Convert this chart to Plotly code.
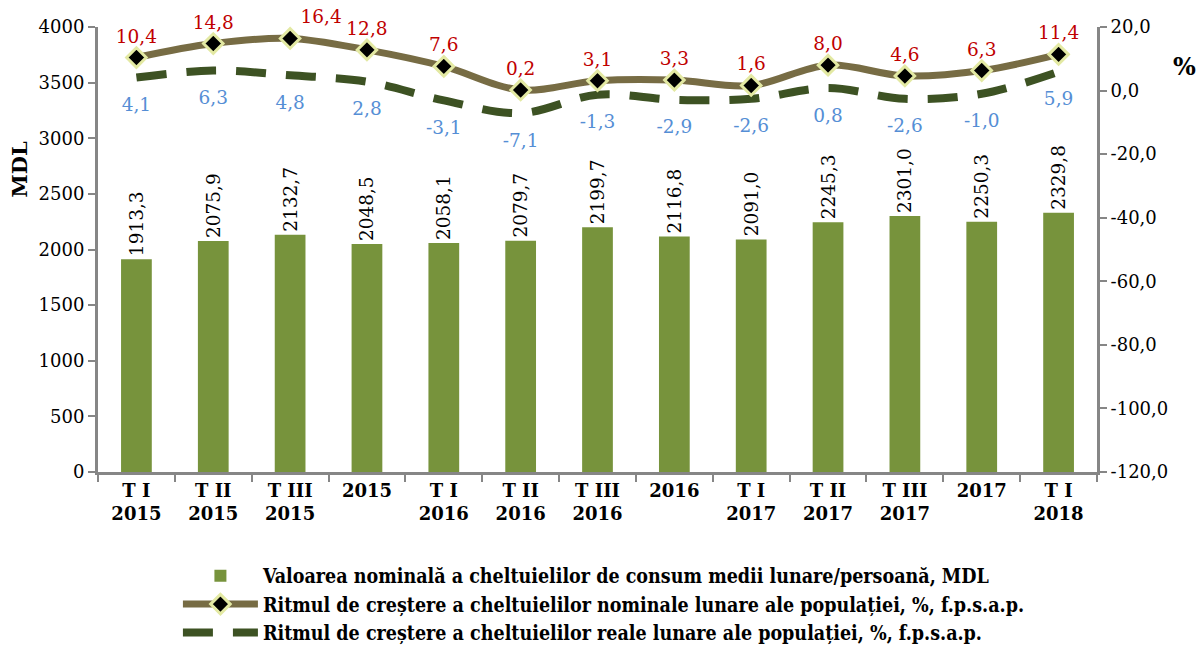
import plotly.graph_objects as go

# Quarter / year categories
categories = ["T I<br>2015", "T II<br>2015", "T III<br>2015", "2015",
              "T I<br>2016", "T II<br>2016", "T III<br>2016", "2016",
              "T I<br>2017", "T II<br>2017", "T III<br>2017", "2017",
              "T I<br>2018"]

# Average monthly consumption expenditure per person, MDL
nominal_value = [1913.3, 2075.9, 2132.7, 2048.5, 2058.1, 2079.7, 2199.7,
                 2116.8, 2091.0, 2245.3, 2301.0, 2250.3, 2329.8]

# Growth rates, % vs. same period of previous year
nominal_growth = [10.4, 14.8, 16.4, 12.8, 7.6, 0.2, 3.1, 3.3, 1.6, 8.0, 4.6, 6.3, 11.4]
real_growth = [4.1, 6.3, 4.8, 2.8, -3.1, -7.1, -1.3, -2.9, -2.6, 0.8, -2.6, -1.0, 5.9]

right_tickvals = [20, 0, -20, -40, -60, -80, -100, -120]
right_ticktext = ["20,0", "0,0", "-20,0", "-40,0", "-60,0", "-80,0", "-100,0", "-120,0"]


def fmt(v):
    return f"{v:.1f}".replace(".", ",")


SERIF = "DejaVu Serif"
AXIS_GRAY = "#868686"

# label placement for the nominal growth line (peak label sits to the right)
nominal_label_pos = ["top center"] * len(categories)
nominal_label_pos[2] = "top right"

fig = go.Figure()

fig.add_trace(go.Bar(
    x=categories, y=nominal_value,
    name="Valoarea nominală a cheltuielilor de consum medii lunare/persoană, MDL",
    legendrank=1,
    marker=dict(color="#77933C", line=dict(width=0)),
    width=0.4,
    text=[fmt(v) for v in nominal_value],
    textposition="outside", textangle=-90, constraintext="none",
    textfont=dict(family=SERIF, size=18.5, color="black"),
    cliponaxis=False,
    yaxis="y",
))

fig.add_trace(go.Scatter(
    x=categories, y=real_growth,
    name="Ritmul de creștere a cheltuielilor reale lunare ale populației, %, f.p.s.a.p.",
    legendrank=3,
    mode="lines+markers+text",
    line=dict(color="#3D5223", width=8, dash="30px,20px", shape="spline", smoothing=1),
    marker=dict(size=30, color="rgba(0,0,0,0)", line=dict(width=0)),
    text=[fmt(v) for v in real_growth],
    textposition="bottom center",
    textfont=dict(family=SERIF, size=18.5, color="#558ED5"),
    cliponaxis=False,
    yaxis="y2",
))

fig.add_trace(go.Scatter(
    x=categories, y=nominal_growth,
    name="Ritmul de creștere a cheltuielilor nominale lunare ale populației, %, f.p.s.a.p.",
    legendrank=2,
    mode="lines+markers+text",
    line=dict(color="#776C44", width=7, shape="spline", smoothing=1),
    marker=dict(symbol="diamond", size=15, color="black",
                line=dict(color="#E3E9A3", width=3)),
    text=[fmt(v) for v in nominal_growth],
    textposition=nominal_label_pos,
    textfont=dict(family=SERIF, size=18.5, color="#C00000"),
    cliponaxis=False,
    yaxis="y2",
))

fig.update_layout(
    width=1201, height=646,
    margin=dict(l=98, r=104, t=27, b=174, autoexpand=False),
    paper_bgcolor="white", plot_bgcolor="white",
    font=dict(family=SERIF, size=18, color="black"),
    bargap=0.6,
    showlegend=True,
    legend=dict(
        orientation="v", x=0.08, xanchor="left", y=-0.19, yanchor="top",
        itemwidth=75, tracegroupgap=0,
        font=dict(family="DejaVu Serif Condensed", size=19.5, color="black", weight="bold"),
        bgcolor="rgba(0,0,0,0)",
    ),
    xaxis=dict(
        type="category", automargin=False, range=[-0.5, len(categories) - 0.5],
        showline=True, linecolor=AXIS_GRAY, linewidth=3,
        ticks="outside", tickson="boundaries", ticklen=7, tickwidth=2, tickcolor=AXIS_GRAY,
        tickfont=dict(family=SERIF, size=18, color="black", weight="bold"),
        showgrid=False, zeroline=False,
    ),
    yaxis=dict(
        range=[0, 4000], dtick=500, automargin=False,
        showline=True, linecolor=AXIS_GRAY, linewidth=3,
        ticks="outside", ticklen=7, tickwidth=2, tickcolor=AXIS_GRAY,
        tickfont=dict(family=SERIF, size=18, color="black"),
        showgrid=False, zeroline=False,
    ),
    yaxis2=dict(
        overlaying="y", side="right", automargin=False,
        range=[-120, 20], tickvals=right_tickvals, ticktext=right_ticktext,
        showline=True, linecolor=AXIS_GRAY, linewidth=3,
        ticks="outside", ticklen=7, tickwidth=2, tickcolor=AXIS_GRAY,
        tickfont=dict(family=SERIF, size=18, color="black"),
        showgrid=False, zeroline=False,
    ),
    annotations=[
        dict(text="<b>MDL</b>", xref="paper", yref="paper", x=-0.079, y=0.68,
             xanchor="center", yanchor="middle",
             showarrow=False, textangle=-90, font=dict(family=SERIF, size=21)),
        dict(text="<b>%</b>", xref="paper", yref="paper", x=1.088, y=0.912,
             xanchor="center", yanchor="middle",
             showarrow=False, font=dict(family=SERIF, size=24)),
    ],
)

fig.write_html("out.html")
